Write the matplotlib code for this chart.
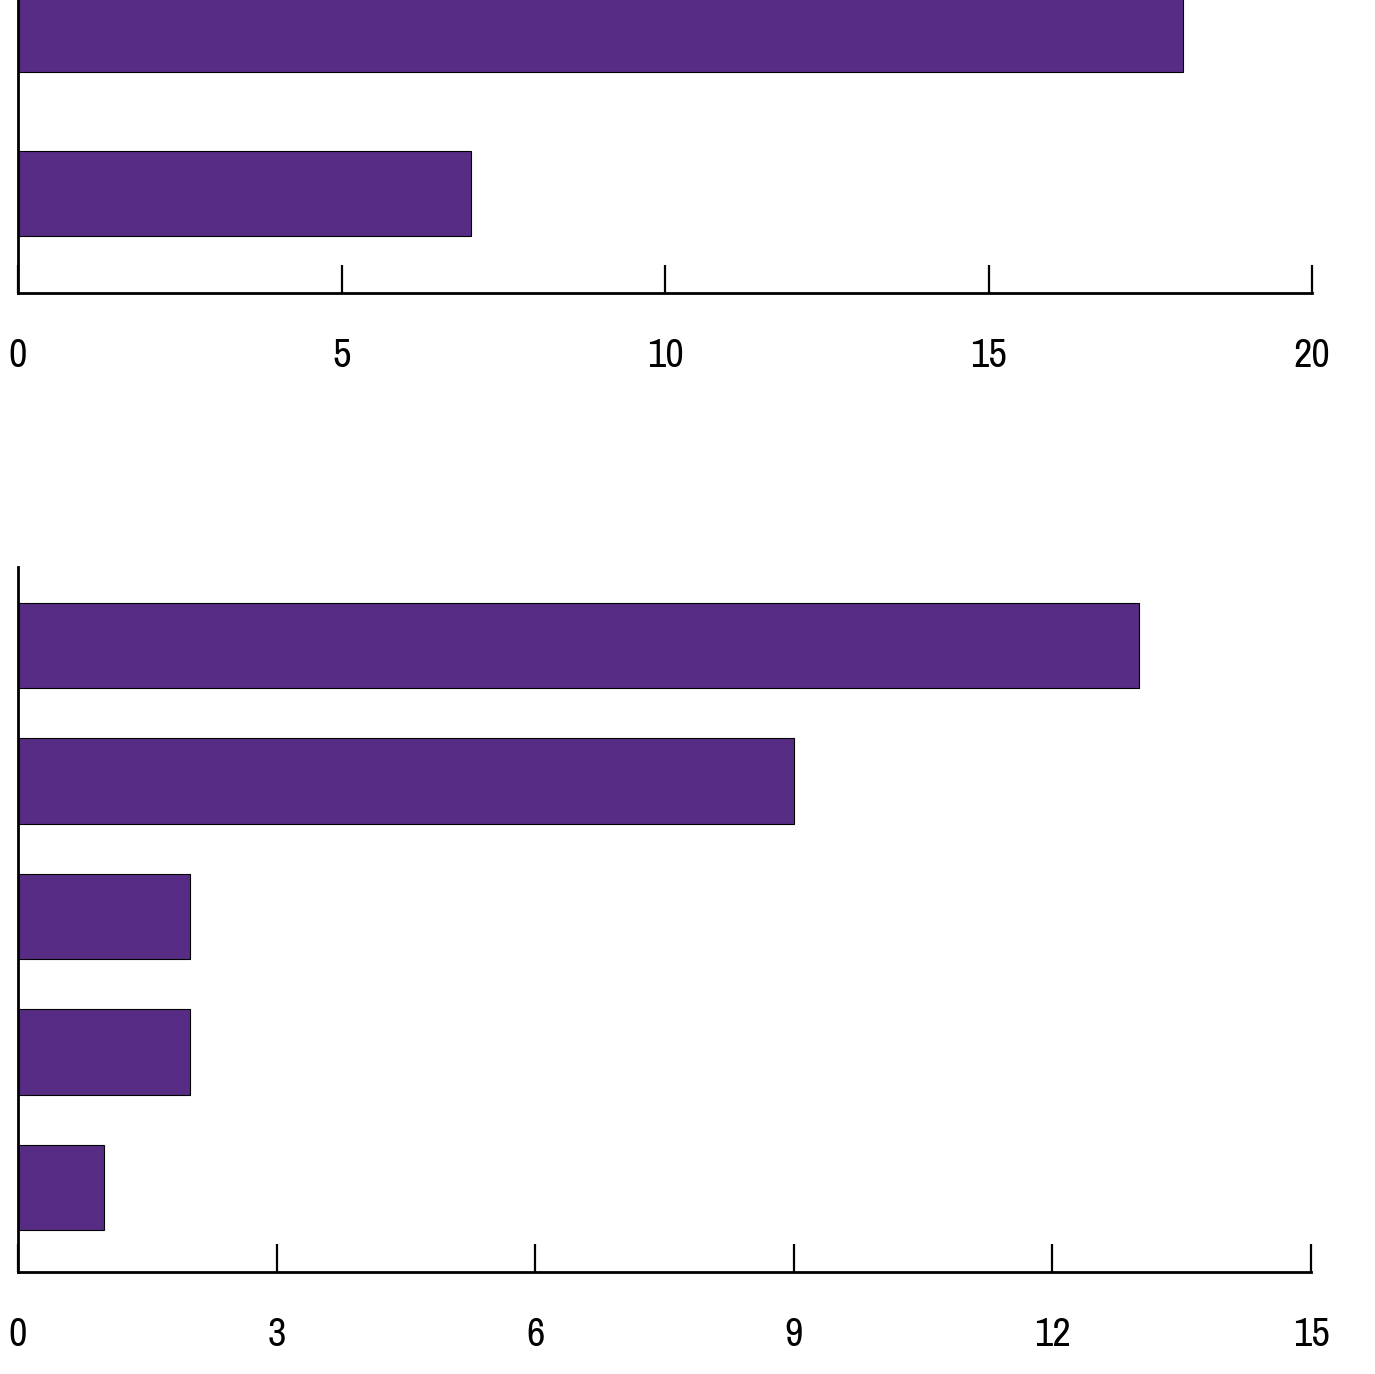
import matplotlib
matplotlib.use('Agg')
import matplotlib.pyplot as plt

# top panel: bars from bottom to top
top_values = [7, 18]
top_ticks = [0, 5, 10, 15, 20]

# bottom panel: bars from bottom to top
bottom_values = [1, 2, 2, 9, 13]
bottom_ticks = [0, 3, 6, 9, 12, 15]

bar_color = '#572c84'

plt.rcParams['font.family'] = ['Archivo Narrow', 'DejaVu Sans']

W, H = 1375, 1374
fig = plt.figure(figsize=(W / 100, H / 100), dpi=100)


def px_axes(left, top, right, bottom):
    return fig.add_axes([left / W, 1 - bottom / H, (right - left) / W, (bottom - top) / H])


def style(ax, ticks):
    for s in ['top', 'right']:
        ax.spines[s].set_visible(False)
    ax.spines['left'].set_linewidth(2)
    ax.spines['bottom'].set_linewidth(2)
    ax.set_xticks(ticks)
    ax.set_xlim(ticks[0], ticks[-1])
    ax.set_yticks([])
    ax.tick_params(axis='x', direction='in', length=20, width=1.6, pad=32, labelsize=29)


ax1 = px_axes(18, 0, 1312, 293)
ax1.barh(range(len(top_values)), top_values, height=0.52, color=bar_color, edgecolor='black', linewidth=0.8)
ax1.set_ylim(-0.607, 1.18)
style(ax1, top_ticks)

ax2 = px_axes(18, 567, 1311, 1272)
ax2.barh(range(len(bottom_values)), bottom_values, height=0.63, color=bar_color, edgecolor='black', linewidth=0.8)
ax2.set_ylim(-0.624, 4.579)
style(ax2, bottom_ticks)

fig.savefig('out.png', dpi=100)
